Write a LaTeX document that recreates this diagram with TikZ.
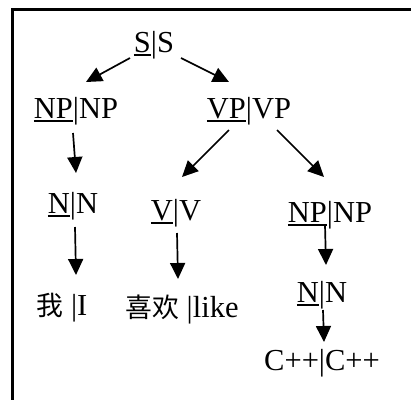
\documentclass[tikz,border=0pt]{standalone}
\usepackage{fontspec}
\setmainfont{Liberation Serif}
\newfontfamily\cjk{Noto Sans CJK SC}[Scale=0.88]
\usetikzlibrary{arrows.meta}

\newcommand{\und}[1]{\setbox0\hbox{#1}\rlap{\rule[-3.6pt]{\wd0}{1.8pt}}\box0}

\tikzset{
    word/.style = {anchor = base, inner sep = 0pt,
                   font = \fontsize{30.5}{36}\selectfont},
    frame/.style = {-, line width = 3pt}
}

\begin{document}
\begin{tikzpicture}[->,>={Triangle[length=16pt,width=15pt]},
                    x=1pt, y=-1pt, line width=1.7pt]

    \useasboundingbox (0,0) rectangle (411,400);
    \draw[frame] (411,9) -- (12,9) -- (12,400);

    \node[word] (ss)  at (154,52)  {\und{S}|S};

    \node[word] (npl) at (76,118)  {\und{NP}|NP};
    \node[word] (vp)  at (249,118) {\und{VP}|VP};

    \node[word] (nl)  at (73,213)  {\und{N}|N};
    \node[word] (v)   at (176,220) {\und{V}|V};
    \node[word] (npr) at (330,222) {\und{NP}|NP};

    \node[word] (wo)  at (62,315)  {{\cjk 我} |I};
    \node[word] (xh)  at (182,317) {{\cjk 喜欢} |like};
    \node[word] (nr)  at (322,302) {\und{N}|N};
    \node[word] (cpp) at (322,370) {C++|C++};

    \path
    %top
    ([shift={(-24,6)}]ss.base) edge [] ([shift={(10,-36)}]npl.base)
    ([shift={(27,6)}]ss.base) edge [] ([shift={(-20,-36)}]vp.base)
    %NP and VP
    ([shift={(-3,15)}]npl.base) edge [] ([shift={(3,-40)}]nl.base)
    ([shift={(-20,12)}]vp.base) edge [] ([shift={(6,-43)}]v.base)
    ([shift={(28,12)}]vp.base) edge [] ([shift={(-6,-45)}]npr.base)
    %words
    ([shift={(2,14)}]nl.base) edge [] ([shift={(14,-40)}]wo.base)
    ([shift={(1,13)}]v.base) edge [] ([shift={(-4,-38)}]xh.base)
    ([shift={(-5,3)}]npr.base) edge [] ([shift={(4,-37)}]nr.base)
    ([shift={(1,8)}]nr.base) edge [] ([shift={(2,-28)}]cpp.base);

\end{tikzpicture}
\end{document}
